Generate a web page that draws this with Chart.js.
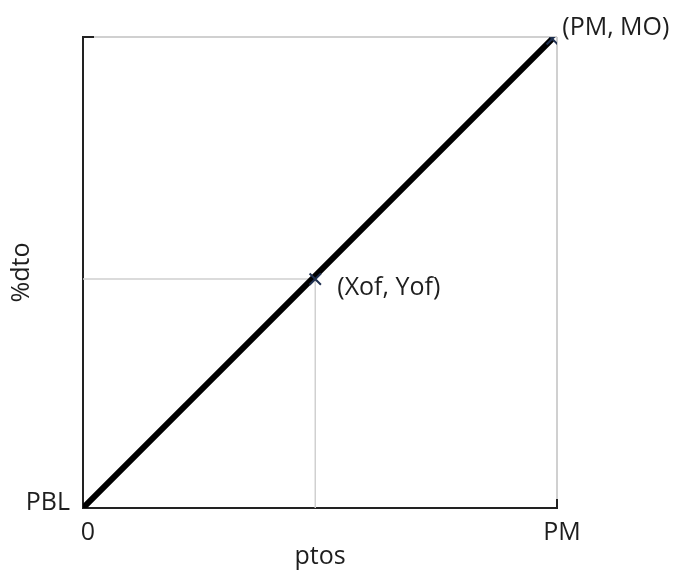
<!DOCTYPE html>
<html lang="pt">
<head>
<meta charset="UTF-8">
<title>%dto x ptos</title>
<script src="https://cdn.jsdelivr.net/npm/chart.js"></script>
<style>
  html, body { margin: 0; padding: 0; background: #fff; }
  canvas { display: block; }
</style>
</head>
<body>
<canvas id="grafico" width="684" height="572"></canvas>
<script>
// dados (escala 0..100 nos dois eixos)
const xTicks = [0, 100];
const xTickLabels = ['0', 'PM'];
const yTicks = [0, 100];
const yTickLabels = ['PBL', ''];

const linhaX = [0, 99];        // reta PBL -> (PM, MO)
const linhaY = [0, 99.6];
const pontosX = [49, 99];      // (Xof, Yof) e (PM, MO)
const pontosY = [48.6, 99.6];
const pontosNomes = ['(Xof, Yof)', '(PM, MO)'];

const fonte = { family: "'Open Sans', sans-serif", size: 25 };
const corTexto = '#1e1e1e';
const cinza = '#d0d0d0';

// linhas guia do ponto (Xof, Yof)
const guia = [
  { x: 0, y: pontosY[0] },
  { x: pontosX[0], y: pontosY[0] },
  { x: pontosX[0], y: 0 }
];

// rótulos dos pontos e pequenos traços pretos nos cantos
const extras = {
  id: 'extras',
  afterDatasetsDraw(chart) {
    const { ctx, scales: { x, y }, chartArea } = chart;
    ctx.save();
    ctx.strokeStyle = '#222';
    ctx.lineWidth = 2;
    const yTop = y.getPixelForValue(yTicks[1]);
    const xRight = x.getPixelForValue(xTicks[1]);
    ctx.beginPath();
    ctx.moveTo(chartArea.left, yTop);
    ctx.lineTo(chartArea.left + 11, yTop);
    ctx.moveTo(xRight, chartArea.bottom);
    ctx.lineTo(xRight, chartArea.bottom - 9);
    ctx.stroke();

    ctx.fillStyle = corTexto;
    ctx.font = fonte.size + 'px ' + fonte.family;
    ctx.textBaseline = 'middle';
    ctx.textAlign = 'left';
    const desloc = [[22, 9], [10, -11]];
    pontosNomes.forEach((nome, i) => {
      const px = x.getPixelForValue(pontosX[i]);
      const py = y.getPixelForValue(pontosY[i]);
      ctx.fillText(nome, px + desloc[i][0], py + desloc[i][1]);
    });
    ctx.restore();
  }
};

new Chart(document.getElementById('grafico'), {
  type: 'scatter',
  data: {
    datasets: [
      {
        data: linhaX.map((v, i) => ({ x: v, y: linhaY[i] })),
        showLine: true,
        borderColor: '#000',
        borderWidth: 6,
        pointRadius: 0,
        order: 1
      },
      {
        data: pontosX.map((v, i) => ({ x: v, y: pontosY[i] })),
        showLine: false,
        pointStyle: 'crossRot',
        pointRadius: 8,
        borderColor: '#1f3050',
        borderWidth: 2,
        order: 0
      },
      {
        data: guia,
        showLine: true,
        borderColor: cinza,
        borderWidth: 1.5,
        pointRadius: 0,
        order: 2
      }
    ]
  },
  options: {
    responsive: false,
    animation: false,
    devicePixelRatio: 1,
    layout: { padding: { top: 37, right: 127, left: 0, bottom: 0 } },
    plugins: { legend: { display: false }, tooltip: { enabled: false } },
    scales: {
      x: {
        type: 'linear',
        min: xTicks[0],
        max: xTicks[1],
        afterBuildTicks: s => { s.ticks = xTicks.map(v => ({ value: v })); },
        afterFit: s => { s.height = 64; },
        ticks: {
          color: corTexto,
          font: fonte,
          padding: 10,
          labelOffset: 5,
          maxRotation: 0,
          callback: (v, i) => xTickLabels[i]
        },
        grid: {
          drawTicks: false,
          lineWidth: 2,
          color: c => (c.tick && c.tick.value === xTicks[1]) ? cinza : 'rgba(0,0,0,0)'
        },
        border: { display: true, color: '#222', width: 2 },
        title: { display: true, text: 'ptos', color: corTexto, font: fonte, padding: { top: 1, bottom: 0 } }
      },
      y: {
        type: 'linear',
        min: yTicks[0],
        max: yTicks[1],
        afterBuildTicks: s => { s.ticks = yTicks.map(v => ({ value: v })); },
        afterFit: s => { s.width = 83; },
        ticks: {
          color: corTexto,
          font: fonte,
          padding: 13,
          labelOffset: -5,
          callback: (v, i) => yTickLabels[i]
        },
        grid: {
          drawTicks: false,
          lineWidth: 2,
          color: c => (c.tick && c.tick.value === yTicks[1]) ? cinza : 'rgba(0,0,0,0)'
        },
        border: { display: true, color: '#222', width: 2 },
        title: { display: true, text: '%dto', color: corTexto, font: fonte, padding: { top: 7, bottom: 0 } }
      }
    }
  },
  plugins: [extras]
});
</script>
</body>
</html>
